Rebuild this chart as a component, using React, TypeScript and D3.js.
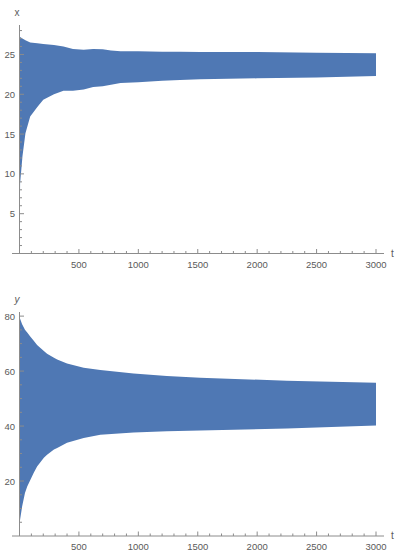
import React from "react";
import * as d3 from "d3";

// envelope of the oscillating solutions
const tX = [0, 5, 25, 50, 90, 150, 200, 290, 370, 450, 540, 620, 700, 770, 850, 1000, 1200, 1350, 1520, 2000, 2500, 3000];
const xUpper = [27.4, 27.2, 27.0, 26.8, 26.5, 26.4, 26.3, 26.2, 26.0, 25.7, 25.6, 25.7, 25.65, 25.5, 25.4, 25.4, 25.35, 25.35, 25.3, 25.3, 25.2, 25.15];
const xLower = [1.0, 8.8, 12.2, 15.1, 17.2, 18.4, 19.3, 20.0, 20.45, 20.45, 20.6, 20.9, 21.0, 21.2, 21.4, 21.5, 21.7, 21.8, 21.9, 22.0, 22.1, 22.3];

const tY = [0, 5, 22, 46, 65, 92, 120, 148, 205, 232, 290, 317, 400, 540, 680, 960, 1240, 1520, 2250, 3000];
const yUpper = [79.5, 79.0, 77.0, 75.0, 74.0, 72.5, 71.0, 69.5, 67.3, 66.3, 64.9, 64.2, 62.8, 61.2, 60.4, 59.1, 58.2, 57.6, 56.5, 55.8];
const yLower = [3.4, 6.0, 10.7, 15.6, 18.0, 20.5, 23.0, 25.3, 28.5, 29.6, 31.5, 32.0, 33.9, 35.7, 36.8, 37.7, 38.1, 38.4, 39.1, 40.2];

const tTicks = [500, 1000, 1500, 2000, 2500, 3000];
const xTicks = [5, 10, 15, 20, 25];
const yTicks = [20, 40, 60, 80];

const BLUE = "#4f78b4";
const AXIS = "#8c8c8c";
const TXT = "#5a5a5a";
const FONT = "Liberation Sans, Arial, sans-serif";

type PanelProps = {
  t: number[];
  upper: number[];
  lower: number[];
  yMax: number;
  top: number; // y pixel of axis top
  bottom: number; // y pixel of x axis
  yTop: number; // value at axis top
  ticks: number[];
  minorStep: number;
  label: string;
  italic: boolean;
};

function Panel(p: PanelProps) {
  const x = d3.scaleLinear().domain([0, 3000]).range([19.5, 376]);
  const y = d3.scaleLinear().domain([0, p.yMax]).range([p.bottom, p.bottom - (p.bottom - p.top) * (p.yMax / p.yTop)]);
  const pts = p.t.map((t, i) => ({ t, hi: p.upper[i], lo: p.lower[i] }));
  const area = d3.area<{ t: number; hi: number; lo: number }>()
    .x(d => x(d.t))
    .y0(d => y(d.lo))
    .y1(d => y(d.hi));

  const minorT = d3.range(100, 3001, 100).filter(v => v % 500 !== 0);
  const minorY = d3.range(p.minorStep, p.yTop, p.minorStep).filter(v => !p.ticks.includes(v));

  return (
    <g>
      <path d={area(pts) || ""} fill={BLUE} />
      {/* x axis */}
      <line x1={12} x2={384} y1={p.bottom} y2={p.bottom} stroke={AXIS} strokeWidth={1} />
      {minorT.map(v => (
        <line key={"mt" + v} x1={x(v)} x2={x(v)} y1={p.bottom} y2={p.bottom - 2.5} stroke={AXIS} />
      ))}
      {tTicks.map(v => (
        <g key={"t" + v}>
          <line x1={x(v)} x2={x(v)} y1={p.bottom} y2={p.bottom - 4.5} stroke={AXIS} />
          <text x={x(v)} y={p.bottom + 14} textAnchor="middle" fontSize={9.5} fill={TXT} fontFamily={FONT}>{v}</text>
        </g>
      ))}
      <text x={391} y={p.bottom + 3} fontSize={10} fill={TXT} fontFamily={FONT}>t</text>
      {/* y axis */}
      <line x1={x(0)} x2={x(0)} y1={p.top} y2={p.bottom} stroke={AXIS} strokeWidth={1} />
      {minorY.map(v => (
        <line key={"my" + v} x1={x(0)} x2={x(0) + 2.5} y1={y(v)} y2={y(v)} stroke={AXIS} />
      ))}
      {p.ticks.map(v => (
        <g key={"y" + v}>
          <line x1={x(0)} x2={x(0) + 4.5} y1={y(v)} y2={y(v)} stroke={AXIS} />
          <text x={15} y={y(v) + 3.5} textAnchor="end" fontSize={9.5} fill={TXT} fontFamily={FONT}>{v}</text>
        </g>
      ))}
      <text x={17} y={p.top - 9} textAnchor="middle" fontSize={10} fill={TXT} fontFamily={FONT}
        fontStyle={p.italic ? "italic" : "normal"}>{p.label}</text>
    </g>
  );
}

export default function App() {
  return (
    <svg width={401} height={553} style={{ position: "absolute", left: 0, top: 0, background: "#fff" }}>
      <Panel t={tX} upper={xUpper} lower={xLower} yMax={28.7} top={25} bottom={253.5} yTop={28.7}
        ticks={xTicks} minorStep={1} label="x" italic={false} />
      <Panel t={tY} upper={yUpper} lower={yLower} yMax={81.5} top={312} bottom={536} yTop={81.5}
        ticks={yTicks} minorStep={5} label="y" italic={true} />
    </svg>
  );
}
